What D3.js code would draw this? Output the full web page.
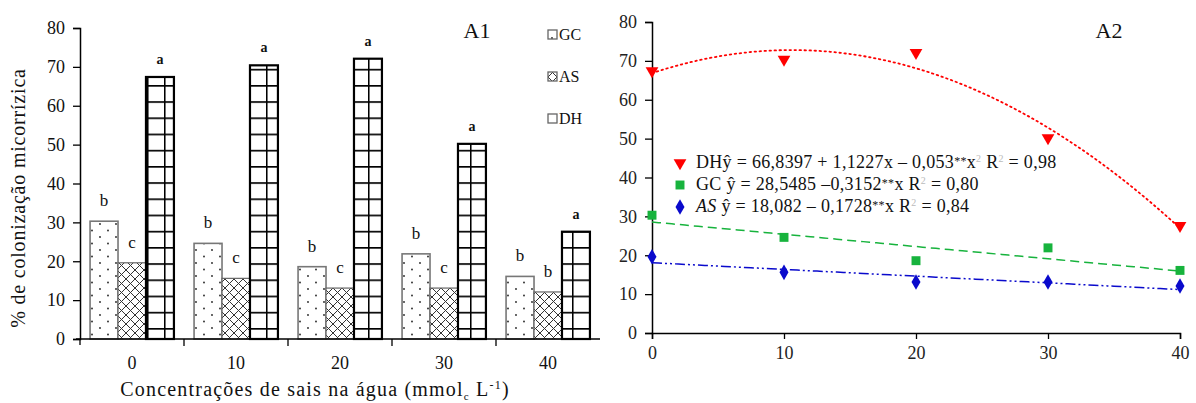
<!DOCTYPE html>
<html>
<head>
<meta charset="utf-8">
<script src="https://cdn.jsdelivr.net/npm/d3@7"></script>
<style>
  html, body { margin: 0; padding: 0; background: #fff; }
  svg { display: block; }
  svg text { font-family: "Liberation Serif", "DejaVu Serif", "Times New Roman", serif; }
</style>
</head>
<body>
<svg id="chart" width="1196" height="403"></svg>
<script>
// Salt concentration levels (mmolc L-1)
const concentrations = [0, 10, 20, 30, 40];
const seriesNames = ["GC", "AS", "DH"];
// Mycorrhizal colonization (%) per series
const gcValues = [30.3, 24.6, 18.6, 21.9, 16.1];
const asValues = [19.6, 15.6, 13.1, 13.1, 12.1];
const dhValues = [67.4, 70.4, 72.1, 50.2, 27.6];
// Mean-comparison letters over each bar
const gcLetters = ["b", "b", "b", "b", "b"];
const asLetters = ["c", "c", "c", "c", "b"];
const dhLetters = ["a", "a", "a", "a", "a"];
const yTicks = [0, 10, 20, 30, 40, 50, 60, 70, 80];
// Regression coefficients (c0, c1, c2) of the fitted curves
const dhFit = [66.8397, 1.1227, -0.053];
const gcFit = [28.5485, -0.3152, 0];
const asFit = [18.082, -0.1728, 0];

const SERIF = "'Liberation Serif', 'DejaVu Serif', serif";
const svg = d3.select("#chart");
const defs = svg.append("defs");

// Fill patterns
const pDot = defs.append("pattern").attr("id", "pDot").attr("patternUnits", "userSpaceOnUse")
  .attr("width", 16).attr("height", 13);
pDot.append("rect").attr("width", 16).attr("height", 13).attr("fill", "#fff");
pDot.append("circle").attr("cx", 4).attr("cy", 3).attr("r", 0.9).attr("fill", "#222");
pDot.append("circle").attr("cx", 12).attr("cy", 9.5).attr("r", 0.9).attr("fill", "#222");

const pX = defs.append("pattern").attr("id", "pX").attr("patternUnits", "userSpaceOnUse")
  .attr("width", 9).attr("height", 9);
pX.append("rect").attr("width", 9).attr("height", 9).attr("fill", "#fff");
pX.append("path").attr("d", "M0,0L9,9M9,0L0,9").attr("stroke", "#333").attr("stroke-width", 1);

const pGrid = defs.append("pattern").attr("id", "pGrid").attr("patternUnits", "userSpaceOnUse")
  .attr("width", 17).attr("height", 16.2).attr("x", 11).attr("y", 4);
pGrid.append("rect").attr("width", 17).attr("height", 16.2).attr("fill", "#fff");
pGrid.append("path").attr("d", "M0.75,0V16.2M0,0.75H17").attr("stroke", "#000").attr("stroke-width", 1.6);

const fills = { GC: "url(#pDot)", AS: "url(#pX)", DH: "url(#pGrid)" };
const strokes = { GC: "#777", AS: "#666", DH: "#000" };
const strokeW = { GC: 1.6, AS: 1.2, DH: 2.2 };

function styleAxis(g, color) {
  g.select(".domain").attr("stroke", "#000").attr("stroke-width", 1.5);
  g.selectAll(".tick line").attr("stroke", "#000").attr("stroke-width", 1.3);
  g.selectAll("text").attr("font-size", 18).attr("fill", color).style("font-family", SERIF);
}

// ---------- A1: grouped bars ----------
const L = { left: 80, right: 600, top: 28, bottom: 339 };
const x0 = d3.scaleBand().domain(concentrations).range([L.left, L.right]).paddingInner(0).paddingOuter(0);
const x1 = d3.scaleBand().domain(seriesNames).range([0, x0.bandwidth()]).paddingOuter(0.36).paddingInner(0);
const yL = d3.scaleLinear().domain([0, 80]).range([L.bottom, L.top]);

const gL = svg.append("g");
const barData = [];
concentrations.forEach((c, i) => {
  barData.push({ c, s: "GC", v: gcValues[i], l: gcLetters[i] });
  barData.push({ c, s: "AS", v: asValues[i], l: asLetters[i] });
  barData.push({ c, s: "DH", v: dhValues[i], l: dhLetters[i] });
});

gL.selectAll("rect.bar").data(barData).join("rect")
  .attr("class", "bar")
  .attr("x", d => x0(d.c) + x1(d.s))
  .attr("y", d => yL(d.v))
  .attr("width", x1.bandwidth())
  .attr("height", d => yL(0) - yL(d.v))
  .attr("fill", d => fills[d.s])
  .attr("stroke", d => strokes[d.s])
  .attr("stroke-width", d => strokeW[d.s]);

gL.selectAll("text.letter").data(barData).join("text")
  .attr("class", "letter")
  .attr("x", d => x0(d.c) + x1(d.s) + x1.bandwidth() / 2)
  .attr("y", d => yL(d.v) - (d.l === "a" ? 13 : 15))
  .attr("text-anchor", "middle")
  .attr("font-size", d => d.l === "a" ? 14 : 17)
  .attr("font-weight", d => d.l === "a" ? "bold" : "normal")
  .attr("fill", "#111")
  .text(d => d.l);

// y axis
const yAxL = d3.axisLeft(yL).tickValues(yTicks).tickSize(7).tickPadding(8);
gL.append("g").attr("transform", `translate(${L.left},0)`).call(yAxL).call(g => styleAxis(g, "#111"));
gL.append("line").attr("x1", L.left).attr("x2", L.left).attr("y1", L.bottom).attr("y2", L.bottom + 6)
  .attr("stroke", "#000").attr("stroke-width", 1.3);

// x axis: boundary ticks between groups, labels centered on groups
gL.append("line").attr("x1", L.left - 4).attr("x2", L.right).attr("y1", L.bottom).attr("y2", L.bottom)
  .attr("stroke", "#000").attr("stroke-width", 1.5);
gL.selectAll("line.bt").data(concentrations.slice(1)).join("line")
  .attr("class", "bt")
  .attr("x1", d => x0(d)).attr("x2", d => x0(d))
  .attr("y1", L.bottom).attr("y2", L.bottom + 7)
  .attr("stroke", "#000").attr("stroke-width", 1.3);
gL.selectAll("text.xl").data(concentrations).join("text")
  .attr("class", "xl")
  .attr("x", d => x0(d) + x0.bandwidth() / 2)
  .attr("y", 369)
  .attr("text-anchor", "middle")
  .attr("font-size", 18).attr("fill", "#111")
  .text(d => d);

// axis titles
gL.append("text")
  .attr("transform", "translate(25,198) rotate(-90)")
  .attr("text-anchor", "middle").attr("font-size", 20).attr("letter-spacing", 0.8).attr("fill", "#111")
  .text("% de colonização micorrízica");

function xTitle(g, cx, y) {
  const t = g.append("text").attr("x", cx).attr("y", y).attr("text-anchor", "middle")
    .attr("font-size", 20).attr("letter-spacing", 1.2).attr("fill", "#111");
  t.append("tspan").text("Concentrações de sais na água (mmol");
  t.append("tspan").attr("font-size", 11).attr("dy", 4).text("c");
  t.append("tspan").attr("dy", -4).text(" L");
  t.append("tspan").attr("font-size", 12).attr("dy", -7).text("-1");
  t.append("tspan").attr("dy", 7).text(")");
}
xTitle(gL, 315, 396);

gL.append("text").attr("x", 477).attr("y", 38).attr("text-anchor", "middle")
  .attr("font-size", 22).attr("fill", "#111").text("A1");

// legend
const legL = gL.selectAll("g.leg").data(seriesNames).join("g")
  .attr("class", "leg")
  .attr("transform", (d, i) => `translate(548,${35 + i * 42})`);
legL.append("rect").attr("x", 0).attr("y", -5).attr("width", 9).attr("height", 9)
  .attr("fill", d => fills[d]).attr("stroke", "#666").attr("stroke-width", 1.3);
legL.append("text").attr("x", 11).attr("y", 5).attr("font-size", 16).attr("fill", "#111").text(d => d);

// ---------- A2: scatter with fitted curves ----------
const R = { left: 652, right: 1180, top: 22, bottom: 333 };
const xR = d3.scaleLinear().domain([0, 40]).range([R.left, R.right]);
const yR = d3.scaleLinear().domain([0, 80]).range([R.bottom, R.top]);
const gR = svg.append("g");

const yAxR = d3.axisLeft(yR).tickValues(yTicks).tickSize(7).tickPadding(8);
gR.append("g").attr("transform", `translate(${R.left},0)`).call(yAxR).call(g => styleAxis(g, "#222"));

const xAxR = d3.axisBottom(xR).tickValues(concentrations).tickSize(6).tickPadding(7);
gR.append("g").attr("transform", `translate(0,${R.bottom})`).call(xAxR).call(g => styleAxis(g, "#222"));

const colors = { DH: "#ff0000", GC: "#17b33d", AS: "#0a0acc" };
const dashes = { DH: "1.5,3.5", GC: "9,5", AS: "10,3,2,3,2,3" };
const fits = { DH: dhFit, GC: gcFit, AS: asFit };
const sampleX = d3.range(0, 40.01, 0.5);
const line = d3.line().x(d => xR(d[0])).y(d => yR(d[1]));

["GC", "AS", "DH"].forEach(s => {
  const f = fits[s];
  const pts = sampleX.map(x => [x, f[0] + f[1] * x + f[2] * x * x]);
  gR.append("path").datum(pts).attr("d", line)
    .attr("fill", "none").attr("stroke", colors[s]).attr("stroke-width", s === "DH" ? 1.8 : 1.5)
    .attr("stroke-dasharray", dashes[s])
    .attr("stroke-linecap", s === "DH" ? "round" : "butt");
});

const valuesBy = { GC: gcValues, AS: asValues, DH: dhValues };
const symbols = {
  DH: d3.symbol().type(d3.symbolTriangle).size(70),
  GC: d3.symbol().type(d3.symbolSquare).size(80),
  AS: d3.symbol().type(d3.symbolDiamond).size(70)
};
["GC", "AS", "DH"].forEach(s => {
  gR.selectAll(`path.m${s}`).data(concentrations.map((c, i) => [c, valuesBy[s][i]])).join("path")
    .attr("class", `m${s}`)
    .attr("d", symbols[s])
    .attr("transform", d => `translate(${xR(d[0])},${yR(d[1])})` + (s === "DH" ? " rotate(180)" : ""))
    .attr("fill", colors[s]);
});

gR.append("text").attr("x", 1109).attr("y", 38).attr("text-anchor", "middle")
  .attr("font-size", 22).attr("fill", "#111").text("A2");

// equation legend: each part is [text, kind]; kinds shift the baseline
const eqRows = [
  { s: "DH", y: 168, parts: [["DH", ""], ["ŷ = 66,8397 + 1,1227x – 0,053", ""], ["**", "star"], ["x", ""], ["2", "sup"], [" R", ""], ["2", "sup"], [" = 0,98", ""]] },
  { s: "GC", y: 190, parts: [["GC ", ""], ["ŷ = 28,5485 –0,3152", ""], ["**", "star"], ["x R", ""], ["2", "sup"], [" = 0,80", ""]] },
  { s: "AS", y: 212, parts: [["AS ", "it"], ["ŷ = 18,082 – 0,1728", ""], ["**", "star"], ["x R", ""], ["2", "sup"], [" = 0,84", ""]] }
];
const shift = { sup: -6, star: -3, it: 0, "": 0 };
eqRows.forEach(r => {
  gR.append("path")
    .attr("d", symbols[r.s])
    .attr("transform", `translate(680,${r.y - 5})` + (r.s === "DH" ? " rotate(180)" : ""))
    .attr("fill", colors[r.s]);
  const t = gR.append("text").attr("x", 696).attr("y", r.y).attr("font-size", 18)
    .attr("letter-spacing", 0.3).attr("fill", "#111");
  let cur = 0;
  r.parts.forEach(([txt, kind]) => {
    const target = shift[kind];
    const sp = t.append("tspan").attr("dy", target - cur).text(txt);
    cur = target;
    if (kind === "sup") sp.attr("font-size", 10).attr("fill", "#bbb");
    if (kind === "it") sp.attr("font-style", "italic");
    if (kind === "star") sp.attr("font-size", 12);
  });
});
</script>
</body>
</html>
